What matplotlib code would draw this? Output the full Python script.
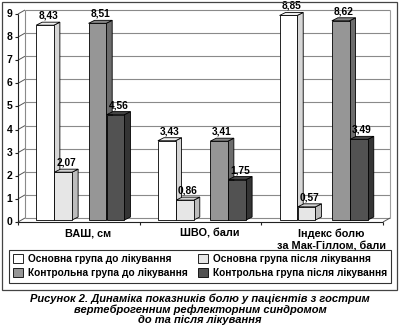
import numpy as np
import matplotlib
matplotlib.use('Agg')
import matplotlib.pyplot as plt
from matplotlib.patches import Polygon, Rectangle, Patch

plt.rcParams['font.family'] = ['Liberation Sans', 'DejaVu Sans']

# Дані
categories = ['ВАШ, см', 'ШВО, бали', 'Індекс болю\nза Мак-Гіллом, бали']
series_names = ['Основна група до лікування', 'Основна група після лікування',
                'Контрольна група до лікування', 'Контрольна група після лікування']
main_before = [8.43, 3.43, 8.85]
main_after = [2.07, 0.86, 0.57]
control_before = [8.51, 3.41, 8.62]
control_after = [4.56, 1.75, 3.49]
y_ticks = list(range(0, 10))
caption = ('Рисунок 2. Динаміка показників болю у пацієнтів з гострим\n'
           'вертеброгенним рефлекторним синдромом\n'
           'до та після лікування')

series = [main_before, main_after, control_before, control_after]
front_colors = ['#ffffff', '#e6e6e6', '#969696', '#525252']
side_colors = ['#d6d6d6', '#bcbcbc', '#6c6c6c', '#343434']
top_colors = ['#f0f0f0', '#d2d2d2', '#858585', '#444444']
offsets = [-0.29, -0.14, 0.14, 0.29]
width = 0.145

W, H = 400, 331
fig = plt.figure(figsize=(W / 100, H / 100), dpi=100)

# площина фронтальних граней стовпців (у пікселях)
x0, x1, y0, y9 = 19.5, 384.5, 220, 12
ax = fig.add_axes([x0 / W, 1 - y0 / H, (x1 - x0) / W, (y0 - y9) / H])
ax.set_xlim(0, 3)
ax.set_ylim(0, 9)
ax.axis('off')

SX = 3 / (x1 - x0)   # одиниць даних на піксель
SY = 9 / (y0 - y9)
fx, fy = -1.5 * SX, -2 * SY   # передній край "підлоги"
bx, by = 5.5 * SX, 2 * SY     # задня стінка
dx, dy = 6 * SX, 3 * SY       # глибина стовпця

kw = dict(clip_on=False, solid_capstyle='butt')

# задня стінка з сіткою
for t in y_ticks:
    ax.plot([bx, 3 + bx], [t + by, t + by], color='#8a8a8a', lw=0.8, zorder=1, **kw)
    ax.plot([fx, bx], [t + fy, t + by], color='#555555', lw=0.7, zorder=1, **kw)
    ax.plot([fx - 3 * SX, fx], [t + fy, t + fy], color='#222222', lw=0.8, zorder=1, **kw)
    ax.text(fx - 5.5 * SX, t + fy, str(t), ha='right', va='center',
            fontsize=7.5, fontweight='bold')
ax.plot([bx, bx], [by, 9 + by], color='#8a8a8a', lw=0.8, zorder=1, **kw)
ax.plot([3 + bx, 3 + bx], [by, 9 + by], color='#a0a0a0', lw=0.8, zorder=1, **kw)
ax.plot([fx, fx], [fy, 9 + fy], color='#222222', lw=0.8, zorder=1, **kw)

# підлога
ax.plot([fx, 3 + fx], [fy, fy], color='#222222', lw=0.8, zorder=2, **kw)
ax.plot([3 + fx, 3 + bx], [fy, by], color='#555555', lw=0.7, zorder=2, **kw)
for i in range(4):
    ax.plot([i + fx, i + fx], [fy, fy - 3 * SY], color='#222222', lw=0.8, **kw)

for i, name in enumerate(categories):
    ax.text(i + 0.5 + 0.065, fy - 6.5 * SY, name, ha='center', va='top',
            fontsize=7.8, fontweight='bold', linespacing=1.3)

# стовпці з бічною та верхньою гранями
pos = np.arange(len(categories)) + 0.5
for j, vals in enumerate(series):
    xs = pos + offsets[j]
    for x, v in zip(xs, vals):
        xl, xr = x - width / 2, x + width / 2
        side = Polygon([(xr, 0), (xr + dx, dy), (xr + dx, v + dy), (xr, v)],
                       closed=True, facecolor=side_colors[j], edgecolor='black',
                       lw=0.6, zorder=3 + j, clip_on=False)
        top = Polygon([(xl, v), (xl + dx, v + dy), (xr + dx, v + dy), (xr, v)],
                      closed=True, facecolor=top_colors[j], edgecolor='black',
                      lw=0.6, zorder=3 + j, clip_on=False)
        ax.add_patch(side)
        ax.add_patch(top)
        ax.text(x + dx / 2, v + dy + 1.5 * SY, f'{v:.2f}'.replace('.', ','),
                ha='center', va='bottom', fontsize=7.3, fontweight='bold', zorder=20)
    ax.bar(xs, vals, width, color=front_colors[j], edgecolor='black',
           lw=0.6, zorder=3 + j, clip_on=False)

# легенда
order = [0, 2, 1, 3]
handles = [Patch(facecolor=front_colors[k], edgecolor='black', lw=0.6) for k in order]
leg = fig.legend(handles, [series_names[k] for k in order], ncol=2,
                 loc='upper left', mode='expand',
                 bbox_to_anchor=(9 / W, 1 - 283 / H, 382 / W, 33 / H),
                 prop=dict(size=7.3, weight='bold'), frameon=True, fancybox=False,
                 edgecolor='black', handlelength=1.0, handleheight=1.0,
                 handletextpad=0.45, labelspacing=0.4, borderpad=0.42,
                 borderaxespad=0)
leg.get_frame().set_linewidth(0.8)

# рамка навколо діаграми
fig.add_artist(Rectangle((1.5 / W, 1 - 289.5 / H), 395.5 / W, 288 / H,
                         transform=fig.transFigure, fill=False,
                         edgecolor='#444444', lw=0.9))

fig.text(0.5, 1 - 294 / H, caption, ha='center', va='top', fontsize=8,
         fontweight='bold', style='italic', linespacing=1.0)

fig.savefig('out.png', dpi=100)
